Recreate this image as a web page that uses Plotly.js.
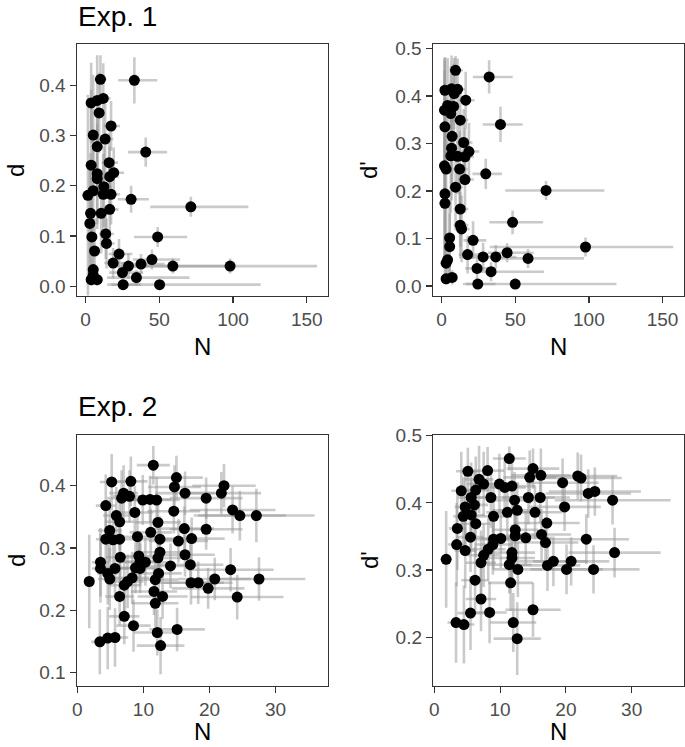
<!DOCTYPE html>
<html>
<head>
<meta charset="utf-8">
<script src="https://cdn.plot.ly/plotly-3.0.1.min.js"></script>
<style>html,body{margin:0;padding:0;background:#fff;}#chart{width:685px;height:747px;}</style>
</head>
<body>
<div id="chart"></div>
<script>
// ---------- Exp. 1 : d vs N ----------
const exp1_d_N = [10.1,33.1,3.8,7.9,12.0,9.2,17.3,5.2,13.3,7.9,40.8,3.8,16.0,7.9,19.1,16.4,7.9,12.4,1.6,5.2,12.0,17.3,30.9,71.4,3.4,10.6,16.4,2.9,4.3,13.7,48.9,14.2,6.1,22.7,18.7,29.1,37.6,45.0,59.2,5.2,25.0,34.5,3.8,7.9,5.2,25.5,50.2,98.0];
const exp1_d = [0.412,0.410,0.365,0.370,0.374,0.345,0.319,0.301,0.293,0.278,0.267,0.241,0.246,0.224,0.226,0.218,0.214,0.198,0.181,0.190,0.183,0.183,0.173,0.158,0.145,0.145,0.153,0.125,0.098,0.104,0.098,0.085,0.070,0.064,0.046,0.040,0.044,0.053,0.040,0.033,0.027,0.017,0.013,0.013,0.022,0.003,0.003,0.040];
const exp1_d_NerrLo = [3,11,2.5,3.5,4,3.5,5,3,4.5,3.5,12,2.5,5,3.5,5.5,5,3.5,4.5,0.2,3,4,5,9,27.5,2.5,4,5,1.5,2.5,4.5,16,4.5,3,7,6,9,11,13,22,3,9,20,2,3.5,3,8,35.5,68];
const exp1_d_NerrHi = [4,15.5,3,4.5,5,4,6,3.5,5.5,4,14.5,3,6,4,7,6,4,5.5,2,3.5,5,6,12,39,3,5,6,2.5,3,5.5,20,5.5,3.5,9,8,13,16,19,37,3.5,14,36,3,4,3.5,12,68.5,59];
const exp1_d_err = [0.048,0.046,0.08,0.09,0.07,0.08,0.05,0.12,0.07,0.1,0.029,0.15,0.06,0.1,0.05,0.06,0.1,0.08,0.2,0.12,0.08,0.06,0.027,0.02,0.12,0.08,0.06,0.12,0.09,0.05,0.02,0.05,0.065,0.03,0.03,0.025,0.02,0.02,0.015,0.03,0.02,0.015,0.012,0.012,0.02,0.003,0.003,0.015];

// ---------- Exp. 1 : d' vs N ----------
const exp1_dp_N = [9.5,32.3,2.3,6.8,10.9,8.6,16.4,2.0,4.1,8.2,6.3,12.7,2.3,40.0,7.2,15.0,6.8,18.6,10.9,15.9,6.3,2.0,3.1,12.3,30.0,15.9,9.5,70.9,2.3,2.3,12.7,12.7,13.6,48.2,5.5,5.5,21.4,17.7,28.2,36.8,44.5,58.7,4.1,3.1,24.1,33.6,3.1,7.2,24.6,50.0,97.7];
const exp1_dp = [0.454,0.440,0.412,0.415,0.414,0.405,0.391,0.370,0.380,0.378,0.363,0.349,0.335,0.340,0.315,0.302,0.290,0.283,0.273,0.272,0.274,0.253,0.246,0.246,0.236,0.224,0.208,0.201,0.194,0.174,0.162,0.128,0.120,0.134,0.101,0.083,0.096,0.066,0.061,0.061,0.070,0.058,0.055,0.048,0.037,0.030,0.015,0.018,0.004,0.004,0.082];
const exp1_dp_NerrLo = [4,11,0.6,3,4,3.5,5,0.3,2.5,3.5,3,4.5,0.6,12,3,5,3,5.5,4,5,3,0.3,1.4,4.5,9,5,4,27.7,0.6,0.6,4.5,4.5,4.5,15.7,3,3,6.5,6,9,11,13,22,2.5,1.4,8,11,1.4,3,8,35.5,65];
const exp1_dp_NerrHi = [5,16,2.5,3.5,5,4,6,1.5,3,4,3.5,5.5,2.5,15,3.5,6,3.5,7,5,6,3.5,1.5,2.5,5.5,11,6,5,39.6,2.5,2.5,5.5,5.5,5.5,20.7,3.5,3.5,9,8,12,14,18,38,3,2.5,12,36,2.5,3.5,12,68.7,59.5];
const exp1_dp_err = [0.03,0.035,0.07,0.07,0.065,0.075,0.06,0.11,0.1,0.09,0.1,0.07,0.14,0.037,0.1,0.07,0.11,0.06,0.08,0.06,0.12,0.2,0.15,0.08,0.032,0.07,0.09,0.02,0.15,0.15,0.08,0.07,0.07,0.025,0.08,0.07,0.04,0.04,0.03,0.025,0.02,0.02,0.05,0.044,0.025,0.02,0.012,0.015,0.004,0.004,0.02];

// ---------- Exp. 2 : d vs N ----------
const exp2_d_N = [11.5,5.2,8.1,15.0,14.7,7.0,6.7,7.9,9.9,11.0,12.0,16.3,19.5,4.3,8.7,14.6,5.9,6.4,12.2,4.9,11.1,16.2,19.5,4.3,5.4,6.4,9.1,12.5,15.3,17.3,6.5,9.3,12.5,12.2,16.3,3.5,9.5,10.3,14.1,17.1,3.5,5.7,8.8,9.5,4.6,12.3,4.9,8.3,11.8,1.8,7.6,7.1,17.2,18.3,11.6,6.4,12.9,11.8,7.1,8.5,12.1,15.1,3.4,4.6,5.7,12.6,19.8,22.2,21.8,23.5,24.6,27.1,23.2,20.8,27.5,24.2];
const exp2_d = [0.433,0.406,0.407,0.413,0.398,0.388,0.380,0.383,0.377,0.378,0.377,0.388,0.380,0.368,0.357,0.359,0.352,0.342,0.341,0.328,0.325,0.331,0.330,0.314,0.313,0.314,0.318,0.314,0.311,0.315,0.285,0.287,0.293,0.284,0.289,0.277,0.278,0.277,0.271,0.273,0.267,0.267,0.268,0.267,0.259,0.259,0.250,0.252,0.249,0.246,0.246,0.240,0.244,0.244,0.230,0.222,0.222,0.211,0.190,0.175,0.164,0.169,0.149,0.155,0.156,0.143,0.235,0.400,0.388,0.361,0.352,0.352,0.265,0.250,0.250,0.221];
const exp2_d_Nerr = [2.5,1.8,2.5,4,4,2.2,2.2,2.5,3,3.2,3.5,4.5,5.5,1.5,2.8,4,2,2.2,3.5,1.8,3.2,4.5,5.5,1.5,1.8,2.2,2.8,3.5,4.5,5,2.2,2.8,3.5,3.5,4.5,1.3,3,3.2,4,5,1.3,2,2.8,3,1.6,3.5,1.8,2.6,3.5,0.2,2.4,2.3,5,5.2,3.5,2.2,3.8,3.5,2.3,2.6,3.5,4.2,1.3,1.6,2,3.6,5.5,4.8,6,6.5,7,8.8,6.5,5.5,7,7];
const exp2_d_err = [0.031,0.045,0.04,0.035,0.035,0.045,0.045,0.042,0.04,0.038,0.037,0.035,0.033,0.05,0.042,0.036,0.046,0.045,0.037,0.05,0.038,0.035,0.033,0.052,0.047,0.045,0.04,0.037,0.035,0.034,0.046,0.04,0.037,0.037,0.035,0.055,0.04,0.038,0.036,0.034,0.055,0.046,0.041,0.04,0.05,0.037,0.05,0.042,0.038,0.075,0.043,0.045,0.035,0.034,0.038,0.046,0.036,0.038,0.045,0.042,0.037,0.035,0.052,0.05,0.047,0.046,0.033,0.035,0.034,0.038,0.04,0.043,0.035,0.034,0.035,0.036];

// ---------- Exp. 2 : d' vs N ----------
const exp2_dp_N = [11.4,5.1,8.1,15.0,14.5,16.2,6.8,7.5,9.9,10.7,11.8,4.1,6.3,5.6,8.6,12.2,14.3,16.1,4.7,6.1,12.6,11.1,15.3,4.4,5.6,9.0,6.3,17.1,3.5,12.3,5.5,9.0,10.1,13.9,12.3,16.3,3.4,8.9,16.9,4.7,8.2,1.8,7.5,11.8,11.8,7.1,11.4,12.7,17.2,18.1,6.2,11.6,7.1,5.5,8.4,15.0,3.3,4.5,12.0,12.6,19.5,21.8,22.3,23.4,24.4,27.1,19.8,23.1,27.4,20.8,20.1,24.2];
const exp2_dp = [0.466,0.447,0.448,0.451,0.438,0.441,0.435,0.428,0.428,0.423,0.425,0.418,0.419,0.408,0.408,0.404,0.408,0.408,0.394,0.397,0.389,0.386,0.386,0.380,0.382,0.380,0.369,0.370,0.362,0.360,0.349,0.346,0.347,0.348,0.351,0.353,0.338,0.338,0.341,0.329,0.331,0.316,0.322,0.326,0.318,0.311,0.308,0.301,0.307,0.313,0.285,0.281,0.257,0.236,0.237,0.241,0.222,0.219,0.222,0.198,0.430,0.440,0.437,0.414,0.417,0.404,0.394,0.346,0.326,0.313,0.301,0.301];
const exp2_dp_Nerr = [2.5,1.8,2.5,4,4,4.5,2.2,2.5,3,3.2,3.5,1.5,2.2,2,2.8,3.5,4,4.5,1.6,2.1,3.6,3.2,4.2,1.5,2,2.8,2.2,5,1.3,3.5,2,2.8,3,4,3.5,4.5,1.3,2.8,5,1.6,2.6,0.2,2.4,3.5,3.5,2.3,3.4,3.7,5,5.2,2.1,3.4,2.3,2,2.6,4.2,1.3,1.6,3.5,3.6,5.5,6,6.2,6.5,7,8.8,5.5,6.5,7,5.8,5.5,7];
const exp2_dp_err = [0.018,0.035,0.035,0.03,0.04,0.04,0.05,0.048,0.045,0.043,0.042,0.058,0.05,0.052,0.045,0.042,0.04,0.038,0.056,0.05,0.042,0.043,0.04,0.058,0.052,0.045,0.05,0.038,0.062,0.042,0.052,0.045,0.044,0.04,0.042,0.038,0.062,0.045,0.038,0.056,0.046,0.072,0.047,0.042,0.042,0.048,0.043,0.041,0.038,0.037,0.05,0.042,0.048,0.055,0.046,0.04,0.06,0.058,0.044,0.054,0.036,0.035,0.035,0.036,0.036,0.036,0.036,0.037,0.037,0.036,0.037,0.036];

const FONT = 'Liberation Sans, Arial, Helvetica, sans-serif';
const ERRC = 'rgba(150,150,150,0.5)';

function trace(x, y, exLo, exHi, ey, xa, ya) {
  return {
    type: 'scatter', mode: 'markers', x: x, y: y, xaxis: xa, yaxis: ya,
    marker: {color: '#000000', size: 11, line: {width: 0}},
    error_x: {type: 'data', symmetric: false, array: exHi, arrayminus: exLo, color: ERRC, thickness: 2.6, width: 0},
    error_y: {type: 'data', symmetric: true, array: ey, color: ERRC, thickness: 2.6, width: 0},
    hoverinfo: 'skip', showlegend: false
  };
}

const data = [
  trace(exp1_d_N, exp1_d, exp1_d_NerrLo, exp1_d_NerrHi, exp1_d_err, 'x', 'y'),
  trace(exp1_dp_N, exp1_dp, exp1_dp_NerrLo, exp1_dp_NerrHi, exp1_dp_err, 'x2', 'y2'),
  trace(exp2_d_N, exp2_d, exp2_d_Nerr, exp2_d_Nerr, exp2_d_err, 'x3', 'y3'),
  trace(exp2_dp_N, exp2_dp, exp2_dp_Nerr, exp2_dp_Nerr, exp2_dp_err, 'x4', 'y4')
];

function ax(extra) {
  return Object.assign({
    showgrid: false, zeroline: false, showline: true, mirror: true,
    linecolor: '#333333', linewidth: 1.2, ticks: 'outside', ticklen: 6,
    tickwidth: 1.2, tickcolor: '#333333',
    tickfont: {family: FONT, size: 19, color: '#4d4d4d'}, fixedrange: true
  }, extra);
}

const W = 685, H = 747;
const px = v => v / W, py = v => 1 - v / H;

const layout = {
  width: W, height: H, margin: {l: 0, r: 0, t: 0, b: 0},
  paper_bgcolor: '#ffffff', plot_bgcolor: '#ffffff', showlegend: false,
  font: {family: FONT},
  xaxis:  ax({domain: [px(76.7), px(327.7)], range: [-6, 164.2], tickvals: [0, 50, 100, 150], anchor: 'y'}),
  yaxis:  ax({domain: [py(295.7), py(44.4)], range: [-0.019, 0.4815], tickvals: [0, 0.1, 0.2, 0.3, 0.4], tickformat: '.1f', anchor: 'x'}),
  xaxis2: ax({domain: [px(432.7), px(683.5)], range: [-6, 164.2], tickvals: [0, 50, 100, 150], anchor: 'y2'}),
  yaxis2: ax({domain: [py(295.7), py(44.4)], range: [-0.0205, 0.5085], tickvals: [0, 0.1, 0.2, 0.3, 0.4, 0.5], tickformat: '.1f', anchor: 'x2'}),
  xaxis3: ax({domain: [px(76.7), px(327.7)], range: [-0.1, 37.9], tickvals: [0, 10, 20, 30], anchor: 'y3'}),
  yaxis3: ax({domain: [py(685.7), py(435)], range: [0.0785, 0.4815], tickvals: [0.1, 0.2, 0.3, 0.4], tickformat: '.1f', anchor: 'x3'}),
  xaxis4: ax({domain: [px(433), px(684.3)], range: [-0.2, 38.0], tickvals: [0, 10, 20, 30], anchor: 'y4'}),
  yaxis4: ax({domain: [py(685.7), py(435)], range: [0.128, 0.501], tickvals: [0.2, 0.3, 0.4, 0.5], tickformat: '.1f', anchor: 'x4'}),
  annotations: [
    {text: 'Exp. 1', x: px(76), y: py(16), xref: 'paper', yref: 'paper', xanchor: 'left', yanchor: 'middle', showarrow: false, font: {family: FONT, size: 28, color: '#000'}},
    {text: 'Exp. 2', x: px(76), y: py(406.5), xref: 'paper', yref: 'paper', xanchor: 'left', yanchor: 'middle', showarrow: false, font: {family: FONT, size: 28, color: '#000'}},
    {text: 'd', x: px(16), y: py(170), xref: 'paper', yref: 'paper', xanchor: 'center', yanchor: 'middle', textangle: -90, showarrow: false, font: {family: FONT, size: 24, color: '#000'}},
    {text: "d'", x: px(369), y: py(170), xref: 'paper', yref: 'paper', xanchor: 'center', yanchor: 'middle', textangle: -90, showarrow: false, font: {family: FONT, size: 24, color: '#000'}},
    {text: 'd', x: px(16), y: py(560), xref: 'paper', yref: 'paper', xanchor: 'center', yanchor: 'middle', textangle: -90, showarrow: false, font: {family: FONT, size: 24, color: '#000'}},
    {text: "d'", x: px(369), y: py(560), xref: 'paper', yref: 'paper', xanchor: 'center', yanchor: 'middle', textangle: -90, showarrow: false, font: {family: FONT, size: 24, color: '#000'}},
    {text: 'N', x: px(202), y: py(346), xref: 'paper', yref: 'paper', xanchor: 'center', yanchor: 'middle', showarrow: false, font: {family: FONT, size: 24, color: '#000'}},
    {text: 'N', x: px(558), y: py(346), xref: 'paper', yref: 'paper', xanchor: 'center', yanchor: 'middle', showarrow: false, font: {family: FONT, size: 24, color: '#000'}},
    {text: 'N', x: px(202), y: 0, xref: 'paper', yref: 'paper', xanchor: 'center', yanchor: 'bottom', showarrow: false, font: {family: FONT, size: 24, color: '#000'}},
    {text: 'N', x: px(558), y: 0, xref: 'paper', yref: 'paper', xanchor: 'center', yanchor: 'bottom', showarrow: false, font: {family: FONT, size: 24, color: '#000'}}
  ]
};

Plotly.newPlot('chart', data, layout, {staticPlot: true, displayModeBar: false});
</script>
</body>
</html>
